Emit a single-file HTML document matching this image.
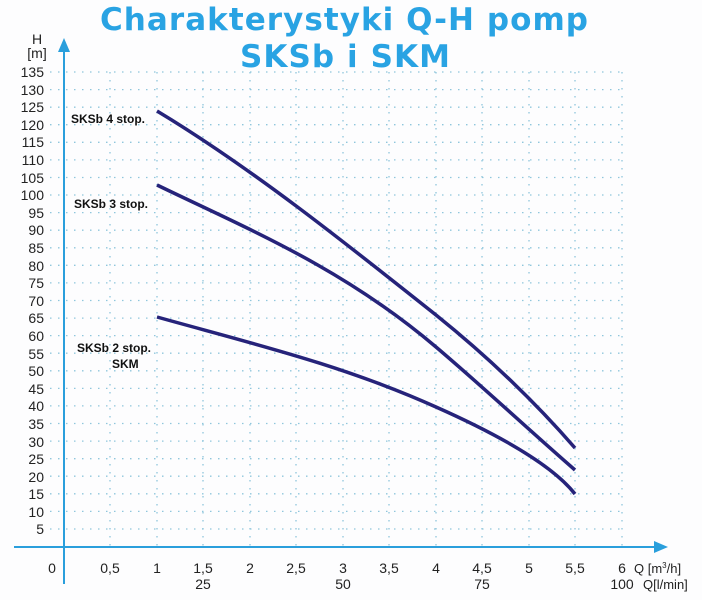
<!DOCTYPE html>
<html><head><meta charset="utf-8"><style>
html,body{margin:0;padding:0;background:#fff;}
svg{display:block;}
</style></head><body>
<svg width="702" height="600" viewBox="0 0 702 600" xmlns="http://www.w3.org/2000/svg" font-family="Liberation Sans, sans-serif">
<rect width="702" height="600" fill="#fdfdfe"/>
<text x="345" y="30" text-anchor="middle" font-family="DejaVu Sans, sans-serif" font-weight="bold" font-size="31" fill="#29a3e3" letter-spacing="2" textLength="490">Charakterystyki Q-H pomp</text>
<text x="346" y="67" text-anchor="middle" font-family="DejaVu Sans, sans-serif" font-weight="bold" font-size="31" fill="#29a3e3" letter-spacing="2" textLength="212">SKSb i SKM</text>
<g stroke="#8fc6dc" stroke-width="1.3" stroke-dasharray="1.5 6.5" fill="none">
<path d="M50 72H622M50 89.6H622M50 107.2H622M50 124.7H622M50 142.3H622M50 159.9H622M50 177.5H622M50 195H622M50 212.6H622M50 230.2H622M50 247.8H622M50 265.3H622M50 282.9H622M50 300.5H622M50 318.1H622M50 335.6H622M50 353.2H622M50 370.8H622M50 388.4H622M50 405.9H622M50 423.5H622M50 441.1H622M50 458.7H622M50 476.2H622M50 493.8H622M50 511.4H622M50 529H622"/>
<path d="M110 72V547M157 72V547M203 72V547M250 72V547M296 72V547M343 72V547M389 72V547M436 72V547M482 72V547M529 72V547M575 72V547M622 72V547"/>
</g>
<g stroke="#2a9fdc" stroke-width="2" fill="#2a9fdc">
<line x1="14" y1="547" x2="656" y2="547"/>
<polygon points="668,547 654,541 654,553" stroke="none"/>
<line x1="64" y1="50" x2="64" y2="584"/>
<polygon points="64,38 58,52 70,52" stroke="none"/>
</g>
<g font-size="14" fill="#222" text-anchor="end">
<text x="44" y="77">135</text><text x="44" y="95">130</text><text x="44" y="112">125</text><text x="44" y="130">120</text><text x="44" y="147">115</text><text x="44" y="165">110</text><text x="44" y="183">105</text><text x="44" y="200">100</text><text x="44" y="218">95</text><text x="44" y="235">90</text><text x="44" y="253">85</text><text x="44" y="271">80</text><text x="44" y="288">75</text><text x="44" y="306">70</text><text x="44" y="323">65</text><text x="44" y="341">60</text><text x="44" y="359">55</text><text x="44" y="376">50</text><text x="44" y="394">45</text><text x="44" y="411">40</text><text x="44" y="429">35</text><text x="44" y="447">30</text><text x="44" y="464">25</text><text x="44" y="482">20</text><text x="44" y="499">15</text><text x="44" y="517">10</text><text x="44" y="534">5</text>
</g>
<text x="37" y="44" font-size="14" fill="#222" text-anchor="middle">H</text>
<text x="37" y="58" font-size="14" fill="#222" text-anchor="middle">[m]</text>
<g font-size="14" fill="#222" text-anchor="middle">
<text x="52" y="573">0</text><text x="110" y="573">0,5</text><text x="157" y="573">1</text><text x="203" y="573">1,5</text><text x="250" y="573">2</text><text x="296" y="573">2,5</text><text x="343" y="573">3</text><text x="389" y="573">3,5</text><text x="436" y="573">4</text><text x="482" y="573">4,5</text><text x="529" y="573">5</text><text x="575" y="573">5,5</text><text x="622" y="573">6</text>
<text x="203" y="589">25</text><text x="343" y="589">50</text><text x="482" y="589">75</text><text x="622" y="589">100</text>
</g>
<text x="634" y="573" font-size="13" fill="#222">Q [m<tspan font-size="8" dy="-5">3</tspan><tspan dy="5">/h]</tspan></text>
<text x="643" y="589" font-size="13" fill="#222">Q[l/min]</text>
<g font-size="12" font-weight="bold" fill="#111">
<text x="71" y="123">SKSb 4 stop.</text>
<text x="74" y="208">SKSb 3 stop.</text>
<text x="77" y="352">SKSb 2 stop.</text>
<text x="112" y="368">SKM</text>
</g>
<g fill="none" stroke="#26237a" stroke-width="3.5" stroke-linecap="butt">
<path d="M157,111 C250,167 343,241 436,315 C482,352 529,395 575,448"/>
<path d="M157,185 C250,230 343,268 436,347 C482,386 529,430 575,470"/>
<path d="M157,317 C250,343 343,365 436,407 C490,431 550,462 575,494"/>
</g>
</svg>
</body></html>
